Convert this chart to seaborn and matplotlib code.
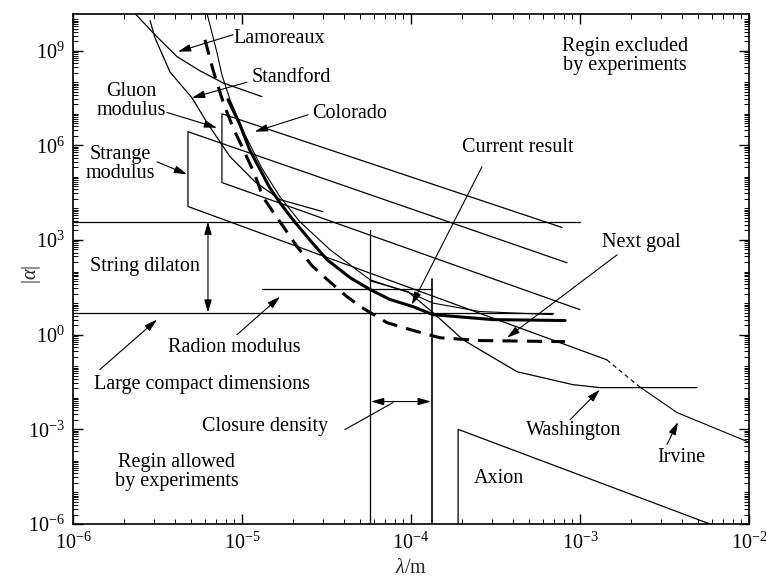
import numpy as np
import pandas as pd
import matplotlib
matplotlib.use("Agg")
import matplotlib.pyplot as plt
import seaborn as sns
from matplotlib.ticker import FixedLocator, FixedFormatter, LogLocator, NullFormatter

# ---------------- data (lambda in m, |alpha|) ----------------
x_ticks = [1e-6, 1e-5, 1e-4, 1e-3, 1e-2]
x_tick_labels = ["$10^{-6}$", "$10^{-5}$", "$10^{-4}$", "$10^{-3}$", "$10^{-2}$"]
y_ticks = [1e-6, 1e-3, 1e0, 1e3, 1e6, 1e9]
y_tick_labels = ["$10^{-6}$", "$10^{-3}$", "$10^{0}$", "$10^{3}$", "$10^{6}$", "$10^{9}$"]

lamoreaux_lam = [2.33e-6, 3.05e-6, 4.12e-6, 5.64e-6, 7.72e-6, 1.31e-5]
lamoreaux_alpha = [1.5e10, 3.2e9, 6.5e8, 2.3e8, 9.5e7, 3.5e7]

stanford_lam = [2.86e-6, 3.05e-6, 3.75e-6, 5.06e-6, 6.21e-6, 8.49e-6, 1.19e-5, 1.68e-5, 3.01e-5]
stanford_alpha = [8.9e9, 2.6e9, 2.1e8, 3.2e7, 5.2e6, 4.4e5, 7.1e4, 1.9e4, 7.9e3]

current_lam = [8.26e-6, 9.72e-6, 1.11e-5, 1.28e-5, 1.46e-5, 1.68e-5, 2.00e-5, 2.52e-5,
               3.18e-5, 4.36e-5, 5.72e-5, 7.51e-5, 1.03e-4, 1.35e-4, 3.05e-4, 8.15e-4]
current_alpha = [2.8e7, 4.5e6, 7.2e5, 1.7e5, 4.5e4, 1.5e4, 4.4e3, 1.0e3,
                 240, 64, 27, 13, 7.7, 4.3, 3.0, 2.8]

colorado_lam = [6.21e-6, 6.64e-6, 7.11e-6, 7.61e-6, 8.49e-6, 1.04e-5, 1.31e-5, 1.68e-5,
                2.20e-5, 3.32e-5, 5.72e-5, 9.86e-5, 1.35e-4, 2.56e-4, 6.92e-4]
colorado_alpha = [1.5e10, 3.7e9, 8.7e8, 1.7e8, 2.8e7, 2.2e6, 1.9e5, 2.3e4,
                  3.8e3, 490, 55, 21, 10, 5.4, 4.3]

washington_lam = [5.72e-5, 9.60e-5, 1.35e-4, 2.03e-4, 4.24e-4, 9.09e-4, 1.31e-3, 4.92e-3]
washington_alpha = [51, 23, 5.0, 0.69, 0.067, 0.026, 0.021, 0.021]

irvine_gap_lam = [1.44e-3, 2.26e-3]
irvine_gap_alpha = [0.16, 0.022]
irvine_lam = [2.26e-3, 3.75e-3, 1e-2]
irvine_alpha = [0.022, 3.4e-3, 3.9e-4]

goal_lam = [6.04e-6, 6.73e-6, 7.72e-6, 8.85e-6, 1.0e-5, 1.19e-5, 1.33e-5, 1.57e-5, 2.12e-5,
            2.59e-5, 3.10e-5, 4.18e-5, 5.13e-5, 7.21e-5, 1.01e-4, 1.48e-4, 2.56e-4, 8.15e-4]
goal_alpha = [2.2e9, 2.5e8, 2.4e7, 3.6e6, 9.1e5, 1.2e5, 2.3e4, 6.3e3, 610,
              155, 64, 16, 7.2, 2.4, 1.4, 0.8, 0.65, 0.60]

gluon_lam = [1e-3, 7.61e-6, 7.61e-6, 7.82e-4]
gluon_alpha = [6.2, 6.6e4, 1.0e7, 2.5e3]

strange_lam = [1.44e-3, 4.79e-6, 4.79e-6, 8.37e-4]
strange_alpha = [0.16, 1.15e4, 2.7e6, 190]

dilaton_lam = [1e-6, 1e-3]
dilaton_alpha = [3.8e3, 3.8e3]
compact_lam = [1e-6, 6.92e-4]
compact_alpha = [5.0, 5.0]
radion_lam = [1.31e-5, 1.33e-4]
radion_alpha = [29, 29]
closure_left_lam = [5.72e-5, 5.72e-5]
closure_left_alpha = [2.1e3, 1e-6]
closure_right_lam = [1.33e-4, 1.33e-4]
closure_right_alpha = [59, 1e-6]
axion_lam = [1.90e-4, 1.90e-4, 5.87e-3]
axion_alpha = [1e-6, 1.0e-3, 1e-6]

# ---------------- style ----------------
sns.set_theme(style="ticks")
plt.rcParams.update({
    "font.family": ["Liberation Serif", "DejaVu Serif"],
    "mathtext.fontset": "custom",
    "mathtext.rm": "Liberation Serif",
    "mathtext.it": "Liberation Serif:italic",
    "mathtext.bf": "Liberation Serif:bold",
    "axes.edgecolor": "black",
    "axes.linewidth": 1.2,
    "xtick.color": "black",
    "ytick.color": "black",
})
FS = 14.5

fig = plt.figure(figsize=(7.66, 5.79), dpi=100)
ax = fig.add_axes([73 / 766, 1 - 524 / 579, 676 / 766, 510 / 579])
ax.set_xscale("log")
ax.set_yscale("log")


def curve(lam, alpha, lw=0.9, ls="-"):
    df = pd.DataFrame({"lam": lam, "alpha": alpha})
    sns.lineplot(data=df, x="lam", y="alpha", estimator=None, sort=False,
                 color="black", lw=lw, linestyle=ls, ax=ax, legend=False)


curve(lamoreaux_lam, lamoreaux_alpha)
curve(stanford_lam, stanford_alpha)
curve(colorado_lam, colorado_alpha, lw=0.8)
curve(current_lam, current_alpha, lw=2.2)
curve(washington_lam, washington_alpha)
curve(irvine_gap_lam, irvine_gap_alpha, lw=0.8, ls=(0, (4, 3)))
curve(irvine_lam, irvine_alpha, lw=0.8)
curve(goal_lam, goal_alpha, lw=2.2, ls=(0, (5, 3)))
curve(gluon_lam, gluon_alpha)
curve(strange_lam, strange_alpha)
curve(dilaton_lam, dilaton_alpha)
curve(compact_lam, compact_alpha)
curve(radion_lam, radion_alpha)
curve(closure_left_lam, closure_left_alpha)
curve(closure_right_lam, closure_right_alpha, lw=1.2)
curve(axion_lam, axion_alpha)

ax.set_xlim(1e-6, 1e-2)
ax.set_ylim(1e-6, 1.45e10)

ax.xaxis.set_major_locator(FixedLocator(x_ticks))
ax.xaxis.set_major_formatter(FixedFormatter(x_tick_labels))
ax.yaxis.set_major_locator(FixedLocator(y_ticks))
ax.yaxis.set_major_formatter(FixedFormatter(y_tick_labels))
ax.xaxis.set_minor_locator(LogLocator(base=10, subs=np.arange(2, 10), numticks=50))
ax.yaxis.set_minor_locator(LogLocator(base=10, subs=np.arange(1, 10), numticks=100))
ax.xaxis.set_minor_formatter(NullFormatter())
ax.yaxis.set_minor_formatter(NullFormatter())
ax.tick_params(which="both", direction="in", top=True, right=True, labelsize=FS)
ax.tick_params(which="major", length=7, width=1.0, pad=6)
ax.tick_params(which="minor", length=3.5, width=0.7)

ax.set_xlabel("$\\lambda$/m", fontsize=FS)
ax.set_ylabel("$|\\alpha|$", fontsize=FS)
ax.xaxis.set_label_coords(0.5, -0.068)
ax.yaxis.set_label_coords(-0.045, 0.49)

# ---------------- annotations ----------------
head = "-|>,head_length=0.55,head_width=0.16"


def arrow(start, tip, style=head):
    ax.annotate("", xy=tip, xytext=start,
                arrowprops=dict(arrowstyle=style, color="black", lw=0.8,
                                shrinkA=0, shrinkB=0, mutation_scale=14))


arrow((8.85e-6, 3.2e9), (4.18e-6, 9.3e8))      # Lamoreaux
arrow((1.07e-5, 1.0e8), (5.06e-6, 3.2e7))      # Stanford
arrow((3.6e-6, 1.1e7), (7.11e-6, 3.6e6))       # Gluon
arrow((2.46e-5, 9.3e6), (1.19e-5, 2.7e6))      # Colorado
arrow((3.14e-6, 3.0e5), (4.73e-6, 1.2e5))      # Strange
arrow((2.63e-4, 2.1e5), (1.01e-4, 8.9))        # Current result
arrow((1.66e-3, 340), (3.70e-4, 0.8))          # Next goal
arrow((9.34e-6, 1.0), (1.68e-5, 16))           # Radion
arrow((1.44e-6, 0.078), (3.14e-6, 3.0))        # Large compact
arrow((8.73e-4, 2.0e-3), (1.31e-3, 0.018))     # Washington
arrow((3.27e-3, 3.3e-4), (3.80e-3, 1.7e-3))    # Irvine
arrow((6.29e-6, 3.8e3), (6.29e-6, 5.0), style="<|-|>,head_length=0.55,head_width=0.16")
arrow((5.8e-5, 7.6e-3), (1.31e-4, 7.6e-3), style="<|-|>,head_length=0.55,head_width=0.16")
arrow((4.06e-5, 9.8e-4), (7.81e-5, 7.0e-3), style="-")  # closure leader

texts = [
    ("Lamoreaux", 8.85e-6, 2.4e9, "left"),
    ("Standford", 1.14e-5, 1.4e8, "left"),
    ("Gluon\nmodulus", 2.2e-6, 2.6e7, "center"),
    ("Strange\nmodulus", 1.9e-6, 2.5e5, "center"),
    ("Colorado", 2.6e-5, 1.0e7, "left"),
    ("Regin excluded\nby experiments", 1.85e-3, 6.9e8, "center"),
    ("Current result", 4.3e-4, 8.5e5, "center"),
    ("Next goal", 2.3e-3, 830, "center"),
    ("String dilaton", 2.67e-6, 142, "center"),
    ("Radion modulus", 8.97e-6, 0.39, "center"),
    ("Large compact dimensions", 5.8e-6, 0.026, "center"),
    ("Closure density", 1.37e-5, 1.2e-3, "center"),
    ("Regin allowed\nby experiments", 4.12e-6, 4.6e-5, "center"),
    ("Washington", 9.2e-4, 9.1e-4, "center"),
    ("Irvine", 4.0e-3, 1.26e-4, "center"),
    ("Axion", 3.3e-4, 2.7e-5, "center"),
]
for s, x, y, ha in texts:
    ax.text(x, y, s, ha=ha, va="center", fontsize=FS, linespacing=1.0,
            multialignment="center", color="black")

fig.savefig("out.png", dpi=100)
